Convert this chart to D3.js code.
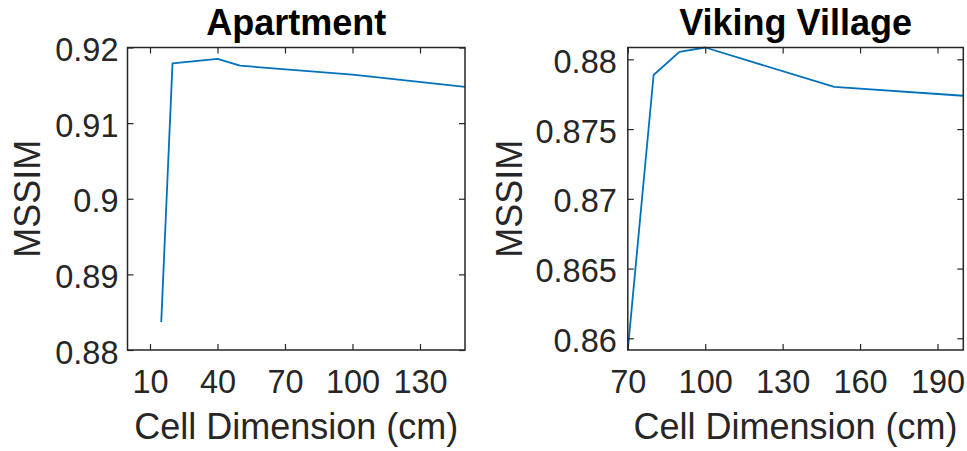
<!DOCTYPE html>
<html>
<head>
<meta charset="utf-8">
<script src="https://cdn.jsdelivr.net/npm/d3@7"></script>
<style>
  body { margin: 0; background: #fff; }
  svg { display: block; font-family: "Liberation Sans", Arial, Helvetica, sans-serif; }
</style>
</head>
<body>
<div class="chart"></div>
<script>
// ---- data
const apartmentCells = [15, 20, 40, 50, 100, 150];
const apartmentMssim = [0.8837, 0.9179, 0.9185, 0.9176, 0.9164, 0.9148];
const apartmentXTicks = [10, 40, 70, 100, 130];
const apartmentYTicks = [0.88, 0.89, 0.90, 0.91, 0.92];
const apartmentYLabels = ["0.88", "0.89", "0.9", "0.91", "0.92"];

const vikingCells = [70, 80, 90, 100, 150, 200];
const vikingMssim = [0.85916, 0.87888, 0.88054, 0.88085, 0.87802, 0.87739];
const vikingXTicks = [70, 100, 130, 160, 190];
const vikingYTicks = [0.86, 0.865, 0.87, 0.875, 0.88];
const vikingYLabels = ["0.86", "0.865", "0.87", "0.875", "0.88"];

const titles = ["Apartment", "Viking Village"];
const xLabel = "Cell Dimension (cm)";
const yLabel = "MSSIM";

// ---- page
const W = 967, H = 451;
const axisColor = "#262626", lineColor = "#0072BD";
const plotTop = 47.5, plotBottom = 350, tickLen = 6;

var svg = d3.select(".chart")
  .append("svg")
    .attr("width", W)
    .attr("height", H);
svg.append("rect").attr("width", W).attr("height", H).attr("fill", "#fff");

function drawPanel(opt) {
  var x = d3.scaleLinear().domain(opt.xDomain).range([opt.left, opt.right]);
  var y = d3.scaleLinear().domain(opt.yDomain).range([plotBottom, plotTop]);
  var g = svg.append("g");

  // the line
  var pts = opt.cells.map(function(c, i) { return [c, opt.values[i]]; });
  g.append("path")
    .datum(pts)
    .attr("fill", "none")
    .attr("stroke", lineColor)
    .attr("stroke-width", 1.8)
    .attr("stroke-linejoin", "round")
    .attr("d", d3.line().x(function(d) { return x(d[0]); }).y(function(d) { return y(d[1]); }));

  // axes, ticks inward on all four sides (box on)
  var xFmt = function(d) { return d; };
  var yFmt = function(d, i) { return opt.yLabels[i]; };

  var bottomAx = g.append("g")
    .attr("transform", "translate(0," + plotBottom + ")")
    .call(d3.axisBottom(x).tickValues(opt.xTicks).tickFormat(xFmt).tickSizeInner(-tickLen).tickSizeOuter(0).tickPadding(19.5));
  var topAx = g.append("g")
    .attr("transform", "translate(0," + plotTop + ")")
    .call(d3.axisTop(x).tickValues(opt.xTicks).tickFormat("").tickSizeInner(-tickLen).tickSizeOuter(0));
  var leftAx = g.append("g")
    .attr("transform", "translate(" + opt.left + ",0)")
    .call(d3.axisLeft(y).tickValues(opt.yTicks).tickFormat(yFmt).tickSizeInner(-tickLen).tickSizeOuter(0).tickPadding(opt.yPad));
  var rightAx = g.append("g")
    .attr("transform", "translate(" + opt.right + ",0)")
    .call(d3.axisRight(y).tickValues(opt.yTicks).tickFormat("").tickSizeInner(-tickLen).tickSizeOuter(0));

  [bottomAx, topAx, leftAx, rightAx].forEach(function(a) {
    a.select(".domain").remove();
    a.selectAll("line").attr("stroke", axisColor).attr("stroke-width", 1.2);
    a.selectAll("text").attr("fill", axisColor).style("font-size", "32.5px").attr("font-family", null);
  });
  leftAx.selectAll("text").attr("dy", "0.4em");

  // box
  g.append("rect")
    .attr("x", opt.left).attr("y", plotTop)
    .attr("width", opt.right - opt.left).attr("height", plotBottom - plotTop)
    .attr("fill", "none").attr("stroke", axisColor).attr("stroke-width", 1.5);

  var cx = (opt.left + opt.right) / 2;
  g.append("text")
    .attr("x", cx).attr("y", 35)
    .attr("text-anchor", "middle")
    .style("font-size", "36px").style("font-weight", "bold")
    .attr("fill", "#000")
    .text(opt.title);
  g.append("text")
    .attr("x", cx).attr("y", 439)
    .attr("text-anchor", "middle")
    .style("font-size", "36px")
    .attr("fill", axisColor)
    .text(xLabel);
  g.append("text")
    .attr("transform", "translate(" + opt.yLabelX + "," + (plotTop + plotBottom) / 2 + ")rotate(-90)")
    .attr("text-anchor", "middle")
    .style("font-size", "36px")
    .attr("fill", axisColor)
    .text(yLabel);
}

drawPanel({
  title: titles[0], cells: apartmentCells, values: apartmentMssim,
  xDomain: [0, 150], yDomain: [0.88, 0.92],
  xTicks: apartmentXTicks, yTicks: apartmentYTicks, yLabels: apartmentYLabels,
  left: 127.5, right: 465, yLabelX: 40, yPad: 9
});
drawPanel({
  title: titles[1], cells: vikingCells, values: vikingMssim,
  xDomain: [70, 200], yDomain: d3.extent(vikingMssim),
  xTicks: vikingXTicks, yTicks: vikingYTicks, yLabels: vikingYLabels,
  left: 627.8, right: 963.3, yLabelX: 522, yPad: 11
});
</script>
</body>
</html>
